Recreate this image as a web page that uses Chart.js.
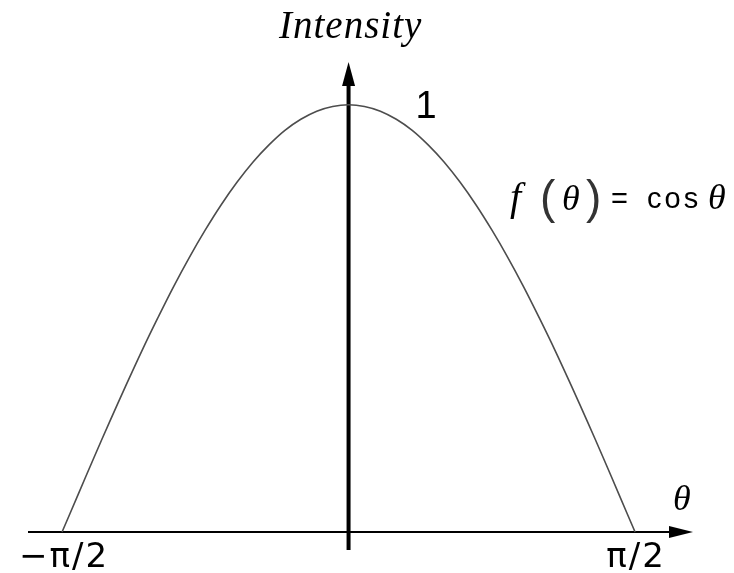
<!DOCTYPE html>
<html lang="en">
<head>
  <meta charset="UTF-8" />
  <title>Intensity - cos θ</title>
  <script src="https://cdn.jsdelivr.net/npm/chart.js"></script>
  <style>
    html, body { margin: 0; padding: 0; background: #fff; }
    #wrap { position: relative; width: 734px; height: 573px; }
  </style>
</head>
<body>
  <div id="wrap">
    <canvas id="cosChart" width="734" height="573"></canvas>
  </div>

  <script>
    // angle in degrees, from -90 to 90
    const angles = [-90, -85, -80, -75, -70, -65, -60, -55, -50, -45, -40, -35, -30, -25, -20, -15, -10, -5,
                    0, 5, 10, 15, 20, 25, 30, 35, 40, 45, 50, 55, 60, 65, 70, 75, 80, 85, 90];
    // relative intensity at each angle
    const intensity = [0, 0.087, 0.174, 0.259, 0.342, 0.423, 0.500, 0.574, 0.643, 0.707, 0.766, 0.819, 0.866, 0.906, 0.940, 0.966, 0.985, 0.996,
                       1.000, 0.996, 0.985, 0.966, 0.940, 0.906, 0.866, 0.819, 0.766, 0.707, 0.643, 0.574, 0.500, 0.423, 0.342, 0.259, 0.174, 0.087, 0];
    // labels under the horizontal axis
    const tickAngles = [-90, 90];
    const tickLabels = ['\u2212\u03c0/2', '\u03c0/2'];

    const points = angles.map((a, i) => ({ x: a, y: intensity[i] }));

    // axes with arrow heads plus the text labels
    const axesPlugin = {
      id: 'axesPlugin',
      beforeDatasetsDraw(chart) {
        const { ctx, scales: { x, y } } = chart;
        const x0 = x.getPixelForValue(0);
        const y0 = y.getPixelForValue(0);
        const left = x.left, right = x.right, top = y.top, bottom = y.bottom;
        ctx.save();
        ctx.fillStyle = '#000';
        ctx.strokeStyle = '#000';

        // horizontal axis
        ctx.lineWidth = 2;
        ctx.beginPath();
        ctx.moveTo(left, y0);
        ctx.lineTo(right - 18, y0);
        ctx.stroke();
        ctx.beginPath();
        ctx.moveTo(right, y0);
        ctx.lineTo(right - 24, y0 - 6);
        ctx.lineTo(right - 24, y0 + 6);
        ctx.closePath();
        ctx.fill();

        // vertical axis
        ctx.lineWidth = 4;
        ctx.beginPath();
        ctx.moveTo(x0, bottom);
        ctx.lineTo(x0, top + 18);
        ctx.stroke();
        ctx.beginPath();
        ctx.moveTo(x0, top);
        ctx.lineTo(x0 - 6.5, top + 24);
        ctx.lineTo(x0 + 6.5, top + 24);
        ctx.closePath();
        ctx.fill();
        ctx.restore();
      },
      afterDraw(chart) {
        const { ctx, scales: { x, y } } = chart;
        const y0 = y.getPixelForValue(0);
        const y1 = y.getPixelForValue(1);
        ctx.save();
        ctx.fillStyle = '#000';
        ctx.textBaseline = 'alphabetic';
        ctx.textAlign = 'left';

        // axis title
        ctx.font = 'italic 39px "Liberation Serif"';
        ctx.letterSpacing = '1px';
        ctx.fillText('Intensity', 279, 38);
        ctx.letterSpacing = '0px';

        // peak value
        ctx.font = '38px "Liberation Sans"';
        ctx.fillText('1', x.getPixelForValue(21), y1 + 13);

        // curve formula  f(θ) = cos θ
        ctx.font = 'italic 40px "Liberation Serif"';
        ctx.fillText('f', 510, 210);
        ctx.fillStyle = '#333';
        ctx.font = '46px "Liberation Sans"';
        ctx.fillText('(', 540, 213);
        ctx.fillText(')', 586, 213);
        ctx.fillStyle = '#000';
        ctx.font = 'italic 36px "Liberation Serif"';
        ctx.fillText('\u03b8', 562, 210);
        ctx.font = '29px "Liberation Sans"';
        ctx.fillText('=', 611, 208);
        ctx.letterSpacing = '3px';
        ctx.fillText('cos', 647, 208);
        ctx.letterSpacing = '0px';
        ctx.font = 'italic 36px "Liberation Serif"';
        ctx.fillText('\u03b8', 708, 209);

        // horizontal axis name
        ctx.fillText('\u03b8', 673, 510);

        // tick labels
        ctx.font = '34px "DejaVu Sans"';
        ctx.textAlign = 'center';
        ctx.letterSpacing = '2px';
        tickAngles.forEach((a, i) => {
          ctx.fillText(tickLabels[i], x.getPixelForValue(a) + (i === 0 ? 2 : 1), y0 + 35);
        });
        ctx.restore();
      }
    };

    new Chart(document.getElementById('cosChart').getContext('2d'), {
      type: 'line',
      data: {
        datasets: [{
          data: points,
          borderColor: '#4d4d4d',
          borderWidth: 1.6,
          pointRadius: 0,
          fill: false,
          tension: 0.4
        }]
      },
      options: {
        responsive: false,
        animation: false,
        layout: { padding: { left: 28, right: 41, top: 62, bottom: 23 } },
        plugins: { legend: { display: false }, tooltip: { enabled: false } },
        scales: {
          x: { type: 'linear', min: -100.7, max: 108.2, display: false },
          y: { min: -0.042, max: 1.1, display: false }
        }
      },
      plugins: [axesPlugin]
    });
  </script>
</body>
</html>
